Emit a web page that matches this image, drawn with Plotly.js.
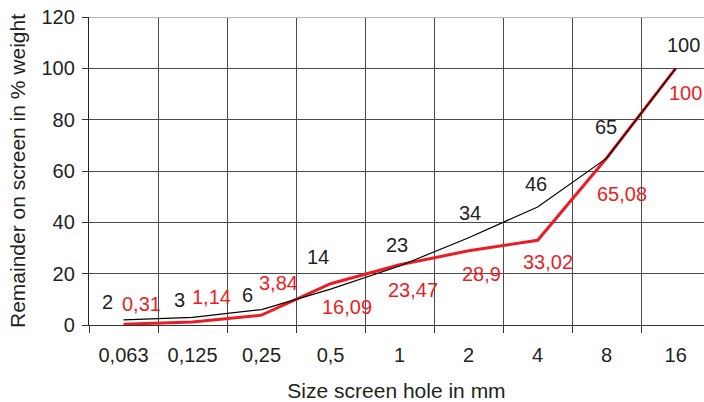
<!DOCTYPE html>
<html>
<head>
<meta charset="utf-8">
<script src="https://cdn.plot.ly/plotly-3.0.1.min.js"></script>
<style>
  html, body { margin: 0; padding: 0; background: #fff; }
  #chart { width: 704px; height: 402px; }
</style>
</head>
<body>
<div id="chart"></div>
<script>
// Sieve sizes (mm) and the remainder on each screen (% by weight)
const sieveSizes = ["0,063", "0,125", "0,25", "0,5", "1", "2", "4", "8", "16"];
const limitCurve = [2, 3, 6, 14, 23, 34, 46, 65, 100];
const sampleCurve = [0.31, 1.14, 3.84, 16.09, 23.47, 28.9, 33.02, 65.08, 100];

// Label offsets in pixels relative to each point [dx, dy] (dy positive = up)
const limitLabelShift = [[-16, 18], [-13, 17], [-14, 15], [-13, 32], [-3, 21], [1, 25], [-2, 23], [-1, 31], [8, 23]];
const sampleLabelShift = [[18, 20], [19, 25], [17, 32], [16, -23], [13, -25], [13, -23], [10, -22], [15, -36], [10, -25]];

const FONT = "Liberation Sans, Arial, sans-serif";
const DARK = "#231f20";
const RED = "#ed1c24";

// Decimal comma formatting, as printed on the chart
const fmt = v => String(v).replace(".", ",");

const traces = [
  {
    x: sieveSizes, y: sampleCurve, type: "scatter", mode: "lines",
    line: { color: RED, width: 3 }, hoverinfo: "skip"
  },
  {
    x: sieveSizes, y: limitCurve, type: "scatter", mode: "lines",
    line: { color: "#000000", width: 1.2 }, hoverinfo: "skip"
  }
];

// Annotations address the category axis by index, since labels like "1" or "16"
// would otherwise be read as positions.
const annotations = [];
limitCurve.forEach((v, i) => {
  annotations.push({
    x: i, y: v, xref: "x", yref: "y", text: fmt(v), showarrow: false,
    xshift: limitLabelShift[i][0], yshift: limitLabelShift[i][1],
    font: { family: FONT, size: 20, color: DARK }
  });
});
sampleCurve.forEach((v, i) => {
  annotations.push({
    x: i, y: v, xref: "x", yref: "y", text: fmt(v), showarrow: false,
    xshift: sampleLabelShift[i][0], yshift: sampleLabelShift[i][1],
    font: { family: FONT, size: 20, color: RED }
  });
});

const layout = {
  width: 704, height: 402,
  margin: { l: 89, r: 0, t: 17, b: 77 },
  paper_bgcolor: "#ffffff", plot_bgcolor: "#ffffff",
  showlegend: false,
  font: { family: FONT, size: 20, color: DARK },
  xaxis: {
    type: "category",
    categoryorder: "array", categoryarray: sieveSizes,
    range: [-0.5, 8.41],
    tickson: "boundaries",
    ticks: "outside", ticklen: 7, tickcolor: "#333", tickwidth: 1,
    showgrid: true, gridcolor: "#4a4a4a", gridwidth: 1,
    showline: true, linecolor: "#333", linewidth: 1,
    zeroline: false,
    tickfont: { family: FONT, size: 20, color: DARK },
    ticklabelstandoff: 12,
    title: { text: "Size screen hole in mm", font: { family: FONT, size: 21, color: DARK }, standoff: 18 },
    fixedrange: true
  },
  yaxis: {
    range: [0, 120], tickvals: [0, 20, 40, 60, 80, 100, 120],
    ticks: "outside", ticklen: 6, tickcolor: "#333", tickwidth: 1,
    showgrid: true, gridcolor: "#4a4a4a", gridwidth: 1,
    showline: true, linecolor: "#222", linewidth: 1.2,
    zeroline: false,
    tickfont: { family: FONT, size: 20, color: DARK },
    ticklabelstandoff: 3,
    title: { text: "Remainder on screen in % weight", font: { family: FONT, size: 21, color: DARK }, standoff: 10 },
    fixedrange: true
  },
  shapes: [
    { type: "line", xref: "paper", yref: "y", x0: 0, x1: 1, y0: 120, y1: 120,
      line: { color: "#b5b5b5", width: 2 }, layer: "above" }
  ],
  annotations: annotations
};

Plotly.newPlot("chart", traces, layout, { staticPlot: true, displayModeBar: false });
</script>
</body>
</html>
